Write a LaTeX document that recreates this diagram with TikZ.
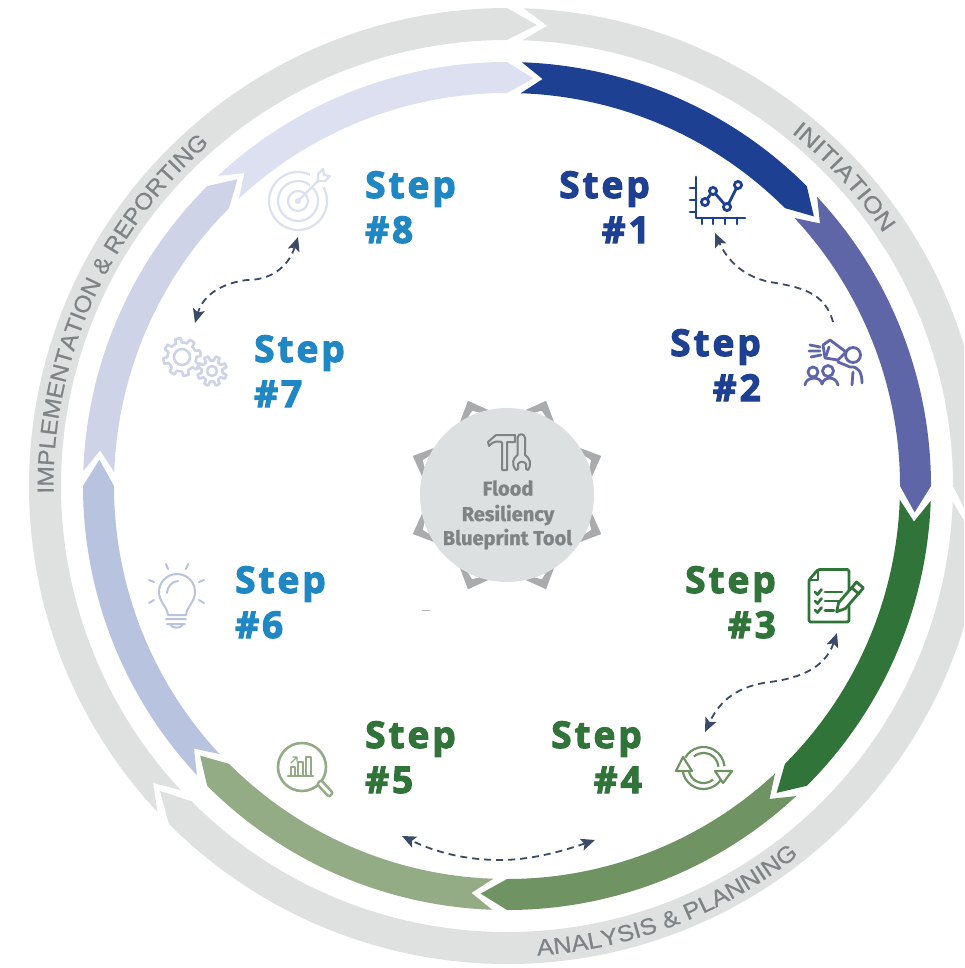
\documentclass[tikz,border=0pt]{standalone}
\usepackage{fontspec}
\usetikzlibrary{arrows.meta,decorations.text}
\newfontfamily\stepfont[LetterSpace=8,BoldFeatures={FakeBold=3}]{Open Sans}
\newfontfamily\ringfontA[FakeStretch=1.10,FakeBold=0.5]{Liberation Sans}
\newfontfamily\ringfontB[FakeStretch=1.14,FakeBold=0.5]{Liberation Sans}
\newfontfamily\ringfontC[FakeStretch=1.07,FakeBold=0.5]{Liberation Sans}
\newfontfamily\hubfont[BoldFeatures={FakeBold=1}]{Fira Sans}
\definecolor{sOne}{HTML}{1E4093}
\definecolor{sTwo}{HTML}{5F66A8}
\definecolor{sThree}{HTML}{31743A}
\definecolor{sFour}{HTML}{6F9362}
\definecolor{sFive}{HTML}{93AC85}
\definecolor{sSix}{HTML}{B8C3E0}
\definecolor{sSeven}{HTML}{CED3E8}
\definecolor{sEight}{HTML}{DCE0F0}
\definecolor{ringgray}{HTML}{DFE1E1}
\definecolor{ringtext}{HTML}{7E8386}
\definecolor{hubgray}{HTML}{DDE0E0}
\definecolor{hubtip}{HTML}{A9ABAD}
\definecolor{hubtext}{HTML}{7F8385}
\definecolor{dashcol}{HTML}{3B4A68}
\definecolor{stepblue}{HTML}{1F87C4}
\newcommand\chev[5]{% colour, start, end, Router, Rinner
  \pgfmathsetmacro\rmid{(#4+#5)/2}
  \fill[#1] ({#2-2}:#4 pt) arc[start angle={#2-2},end angle=#3,radius=#4 pt]
    -- ({#3-3.7}:\rmid pt) -- (#3:#5 pt)
    arc[start angle=#3,end angle={#2-2},radius=#5 pt]
    -- ({#2-5}:\rmid pt) -- cycle;}
\newcommand\gearicon[6]{% x,y,r in,r out,teeth,phase
  \draw[iconline,draw=sSeven] ({#1+#3*cos(#6)},{#2+#3*sin(#6)})
   \foreach \gi in {1,...,#5}{
    -- ({#1+#3*cos(#6+(\gi-1+.22)*360/#5)},{#2+#3*sin(#6+(\gi-1+.22)*360/#5)})
    -- ({#1+#4*cos(#6+(\gi-1+.32)*360/#5)},{#2+#4*sin(#6+(\gi-1+.32)*360/#5)})
    -- ({#1+#4*cos(#6+(\gi-1+.68)*360/#5)},{#2+#4*sin(#6+(\gi-1+.68)*360/#5)})
    -- ({#1+#3*cos(#6+(\gi-1+.78)*360/#5)},{#2+#3*sin(#6+(\gi-1+.78)*360/#5)})
    -- ({#1+#3*cos(#6+\gi*360/#5)},{#2+#3*sin(#6+\gi*360/#5)})
   } -- cycle;}
\tikzset{
  steplabel/.style={font=\stepfont\bfseries\fontsize{37}{45}\selectfont,inner sep=0pt},
  hublabel/.style={font=\hubfont\bfseries\fontsize{20}{20}\selectfont,text=hubtext,anchor=base,inner sep=0pt},
  iconline/.style={line width=2.6pt,line join=round,line cap=round},
  flow/.style={draw=dashcol,line width=1.8pt,dash pattern=on 7pt off 5pt},
  flowone/.style={flow,-{Stealth[length=14pt,width=12pt,inset=3pt]}},
  flowtwo/.style={flow,{Stealth[length=14pt,width=12pt,inset=3pt]}-{Stealth[length=14pt,width=12pt,inset=3pt]}},
}
\begin{document}
\begin{tikzpicture}[x=1pt,y=1pt]
\useasboundingbox (0,0) rectangle (964,-968);
\clip (0,0) rectangle (964,-968);
\fill[white] (0,0) rectangle (964,-968);
\coordinate (ringc) at (507,-486);
\begin{scope}[shift={(ringc)}]
  % outer ring
  \chev{ringgray}{90}{0}{478}{446}
  \chev{ringgray}{0}{-135}{478}{446}
  \chev{ringgray}{-135}{-270}{478}{446}
  % inner ring
  \chev{sEight}{135}{90}{424}{393}
  \chev{sSeven}{180}{135}{424}{393}
  \chev{sSix}{225}{180}{424}{393}
  \chev{sFive}{-90}{-135}{424}{393}
  \chev{sFour}{-45}{-90}{424}{393}
  \chev{sThree}{0}{-45}{424}{393}
  \chev{sTwo}{45}{0}{424}{393}
  \chev{sOne}{90}{45}{424}{393}
  % ring labels
  \path[decorate,decoration={text along path,text align=center,
     text={|\ringfontB\fontsize{23}{23}\selectfont\color{ringtext}|INITIATION}}]
     (60:453.5 pt) arc[start angle=60,end angle=25,radius=453.5 pt];
  \path[decorate,decoration={text along path,text align=center,
     text={|\ringfontA\fontsize{23}{23}\selectfont\color{ringtext}|ANALYSIS {\&} PLANNING}}]
     (-95:470.5 pt) arc[start angle=-95,end angle=-43,radius=470.5 pt];
  \path[decorate,decoration={text along path,text align=center,
     text={|\ringfontC\fontsize{23}{23}\selectfont\color{ringtext}|IMPLEMENTATION {\&} REPORTING}}]
     (190:453.5 pt) arc[start angle=190,end angle=122,radius=453.5 pt];
\end{scope}
% hub
\coordinate (hubc) at (507,-495);
\begin{scope}[shift={(hubc)}]
  \foreach \a in {22.5,67.5,...,337.5}{
    \fill[hubtip] ({\a-12}:85 pt) -- (\a:102 pt) -- ({\a+12}:85 pt) -- cycle;
    \fill[white] ({\a-4}:87 pt) -- (\a:91 pt) -- ({\a+4}:87 pt) -- cycle;
  }
  \fill[hubgray] (0,0) circle[radius=87pt];
\end{scope}
\node[hublabel] (hubA) at (508,-495.5) {Flood};
\node[hublabel] (hubB) at (508,-521) {Resiliency};
\node[hublabel] (hubD) at (507.5,-545) {Blueprint Tool};
% step labels
\node[steplabel,text=sOne,anchor=base east] (s1a) at (650,-198) {Step};
\node[steplabel,text=sOne,anchor=base east] (s1b) at (650,-243) {\#1};
\node[steplabel,text=sOne,anchor=base east] (s2a) at (761,-356) {Step};
\node[steplabel,text=sOne,anchor=base east] (s2b) at (761,-401) {\#2};
\node[steplabel,text=sThree,anchor=base east] (s3a) at (776,-593) {Step};
\node[steplabel,text=sThree,anchor=base east] (s3b) at (776,-638) {\#3};
\node[steplabel,text=sThree,anchor=base east] (s4a) at (642,-748) {Step};
\node[steplabel,text=sThree,anchor=base east] (s4b) at (642,-793) {\#4};
\node[steplabel,text=sThree,anchor=base west] (s5a) at (365,-748) {Step};
\node[steplabel,text=sThree,anchor=base west] (s5b) at (365,-793) {\#5};
\node[steplabel,text=stepblue,anchor=base west] (s6a) at (235,-593) {Step};
\node[steplabel,text=stepblue,anchor=base west] (s6b) at (235,-638) {\#6};
\node[steplabel,text=stepblue,anchor=base west] (s7a) at (254,-362) {Step};
\node[steplabel,text=stepblue,anchor=base west] (s7b) at (254,-407) {\#7};
\node[steplabel,text=stepblue,anchor=base west] (s8a) at (365,-198) {Step};
\node[steplabel,text=stepblue,anchor=base west] (s8b) at (365,-243) {\#8};
% icons and connectors use image pixels
\begin{scope}[y=-1pt]
  \coordinate (f21) at (833,322); \coordinate (f22) at (770,282); \coordinate (f23) at (715,233);
  \coordinate (f31) at (837,633); \coordinate (f32) at (770,682); \coordinate (f33) at (705,732);
  \coordinate (f41) at (595,840); \coordinate (f42) at (500,860); \coordinate (f43) at (402,836);
  \coordinate (f71) at (298,237); \coordinate (f72) at (247,280); \coordinate (f73) at (195,323);
  \draw[flowone] (f21) .. controls (825,292) and (800,287) .. (f22) .. controls (745,277) and (728,262) .. (f23);
  \draw[flowtwo] (f31) .. controls (825,668) and (800,678) .. (f32) .. controls (738,686) and (720,700) .. (f33);
  \draw[flowtwo] (f41) .. controls (560,852) and (530,860) .. (f42) .. controls (465,860) and (435,852) .. (f43);
  \draw[flowtwo] (f71) .. controls (288,268) and (270,280) .. (f72) .. controls (222,283) and (203,295) .. (f73);

  % hammer and wrench
  \draw[hubtext,line width=2pt,line join=round] (502,442) -- (502,470) -- (507,470) -- (507,442) -- (515,442) -- (515,435) -- (496,435) -- (488,442) -- (489,446) .. controls (493,441) and (497,441) .. (502,442);
  \draw[hubtext,line width=2pt,line join=round] (517.5,455) -- (517.5,438) .. controls (517.5,433) and (525,433) .. (525,438) -- (525,455) .. controls (530,458) and (532,464) .. (528,470) -- (526,469) -- (526,464) .. controls (524,461) and (520,461) .. (518,464) -- (518,469) -- (516,470) .. controls (511,464) and (513,458) .. (517.5,455) -- cycle;
  \draw[line width=.8pt,ringgray!80!black] (422,610) -- (430,610);

  % chart icon
  \begin{scope}[iconline,draw=sOne,line width=2.8pt]
    \draw (696,177) -- (696,218) -- (745,218);
    \foreach \ty in {188,200,212} \draw (690,\ty) -- (696,\ty);
    \foreach \tx in {702,713,725,737} \draw (\tx,218) -- (\tx,224);
    \draw (705,202) -- (713,191) -- (727,207) -- (738,185);
    \foreach \px/\py in {705/202,713/191,727/207,738/185} \draw[fill=white] (\px,\py) circle[radius=3.6];
  \end{scope}
  % people icon
  \begin{scope}[iconline,draw=sTwo,line width=2.8pt]
    \draw[fill=white] (823,345) -- (830,340) -- (846,352) -- (838,360) -- (825,358) -- cycle;
    \draw (829,347) -- (826,356);
    \draw (810,345) -- (820,347) (809,351) -- (820,351) (811,357) -- (821,355);
    \draw[fill=white] (853,355) circle[radius=7.5];
    \draw (838,362) -- (850,367) .. controls (858,366) and (862,372) .. (862,383);
    \draw (853,372) -- (852,385);
    \draw (813,372) circle[radius=5];
    \draw (828,371) circle[radius=5.5];
    \draw (805,385) .. controls (806,376) and (821,376) .. (822,384);
    \draw (822,384) .. controls (824,376) and (836,376) .. (838,385);
  \end{scope}
  % checklist icon
  \begin{scope}[iconline,draw=sThree,line width=2.8pt]
    \draw[rounded corners=1.5pt] (818,569.5) -- (849,569.5) -- (849,622) -- (809,622) -- (809,580) -- cycle;
    \draw (818,570) -- (818,580) -- (809,580);
    \foreach \cy in {592,601,610}{
      \draw (815,\cy) -- (817.5,{\cy+2.5}) -- (821.5,{\cy-2.5});
    }
    \draw (825,592) -- (842,592) (825,601) -- (842,601) (825,610.5) -- (834,610.5);
    \draw[fill=white] (836.7,611.7) -- (845.4,608.5) -- (863.4,588) -- (856.6,582) -- (838.6,602.7) -- cycle;
    \draw (852,588) -- (859,594);
  \end{scope}
  % recycle icon
  \begin{scope}[line width=2.2pt,draw=sFour,line join=round]
    \draw[draw=sFour] (703.5,768) ++(150:21pt) arc[start angle=150,end angle=5,radius=21pt];
    \draw[draw=sFour] (703.5,768) ++(130:15pt) arc[start angle=130,end angle=5,radius=15pt];
    \draw[draw=sFour] (703.5,768) ++(-35:21pt) arc[start angle=-35,end angle=-175,radius=21pt];
    \draw[draw=sFour] (703.5,768) ++(-50:15pt) arc[start angle=-50,end angle=-175,radius=15pt];
    \draw[draw=sFour,fill=white] (683,757) -- (676,771) -- (692,771) -- cycle;
    \draw[draw=sFour,fill=white] (723,783) -- (715,771) -- (732,771) -- cycle;
  \end{scope}
  % magnifier icon
  \begin{scope}[iconline,draw=sFive,line width=2.6pt]
    \draw (302,767) circle[radius=24];
    \draw[line width=2.4pt,rounded corners=2pt,fill=white] (317,784) -- (321,780) -- (333,793) -- (329,797) -- cycle;
    \draw (288,776) -- (313,776);
    \draw[line width=1.8pt] (291,776) -- (291,767) -- (295,767) -- (295,776)
      (298,776) -- (298,762) -- (303,762) -- (303,776)
      (306,776) -- (306,757) -- (311,757) -- (311,776);
    \draw[line width=1.3pt] (291,763) -- (297,757) (293,757) -- (297,757) -- (297,761);
  \end{scope}
  % bulb icon
  \begin{scope}[iconline,draw=sSix,line width=2pt]
    \draw (168,615) .. controls (167,606) and (159,602) .. (159,592) .. controls (159,582) and (167,574) .. (177,574) .. controls (187,574) and (195,582) .. (195,592) .. controls (195,602) and (187,606) .. (186,615) -- cycle;
    \draw (167,593) .. controls (167,587) and (172,581) .. (178,581);
    \draw (166,619) -- (186,619) (167,624) -- (185,624) (170,624) .. controls (171,629) and (182,629) .. (183,624);
    \draw (166,564) -- (168,569) (188,564) -- (186,569) (149,580) -- (154,582) (204,580) -- (199,582) (149,603) -- (154,600) (204,603) -- (199,600);
  \end{scope}
  % gears icon
  \gearicon{182}{357}{14.5}{19}{8}{10}
  \draw[iconline,draw=sSeven] (182,357) circle[radius=8];
  \gearicon{212}{371}{10.5}{15}{8}{0}
  \draw[iconline,draw=sSeven] (212,371) circle[radius=5];
  % target icon
  \begin{scope}[iconline,draw=sEight,line width=2.2pt]
    \draw (298,201) circle[radius=29];
    \draw (298,201) circle[radius=20];
    \draw (298,201) circle[radius=10];
    \fill[sEight] (298,201) circle[radius=3];
    \fill[white] (310,170) rectangle (332,187);
    \draw (298,201) -- (324,175);
    \draw[fill=white] (318,181) -- (318,174) -- (323,169) -- (324,175) -- (330,176) -- (325,181) -- cycle;
  \end{scope}
\end{scope}
\end{tikzpicture}
\end{document}
